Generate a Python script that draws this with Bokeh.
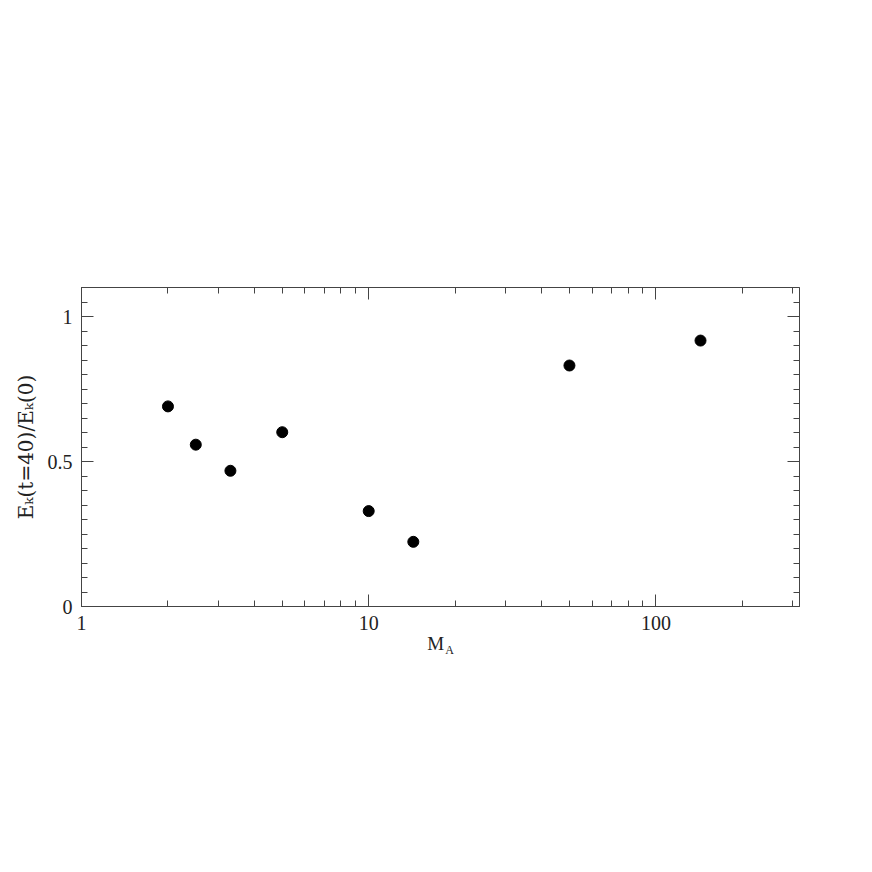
from bokeh.plotting import figure
from bokeh.models import (LogAxis, LinearAxis, LogTicker, SingleIntervalTicker, FixedTicker,
                          Range1d, CustomJSTickFormatter, ColumnDataSource)
from bokeh.embed import file_html
from bokeh.resources import INLINE

# data
MA = [2.0, 2.5, 3.3, 5.0, 10.0, 14.3, 50.0, 143.0]
Ek_ratio = [0.690, 0.558, 0.468, 0.601, 0.329, 0.223, 0.831, 0.917]
x_ticks = [1, 10, 100]
y_ticks = [0, 0.5, 1]

FONT = "Liberation Serif"
AX = "#444444"
TXT = "#222222"
NB = "\u00a0"

# frame placement (pixels in the page)
FL, FR, FT, FB = 81, 799, 287, 606
W, H = 860, 860

p = figure(width=W, height=H, output_backend="svg", toolbar_location=None,
           x_axis_type="log", x_range=Range1d(1, 10 ** 2.5), y_range=Range1d(0, 1.1),
           min_border_left=FL, min_border_right=W - FR, min_border_top=FT, min_border_bottom=H - FB,
           x_axis_location=None, y_axis_location=None)
p.xgrid.visible = False
p.ygrid.visible = False
p.outline_line_color = None

src = ColumnDataSource(dict(x=MA, y=Ek_ratio))
p.scatter("x", "y", source=src, size=11, color="black")


def style(ax, labels=True):
    ax.axis_line_color = AX
    ax.axis_line_width = 1
    ax.major_tick_line_color = AX
    ax.minor_tick_line_color = AX
    ax.major_tick_in = 12
    ax.major_tick_out = 0
    ax.minor_tick_in = 6
    ax.minor_tick_out = 0
    ax.major_label_text_font = FONT
    ax.major_label_text_font_size = "20px"
    ax.major_label_text_color = TXT
    ax.major_label_standoff = 9
    ax.axis_label_text_font = FONT
    ax.axis_label_text_font_style = "normal"
    ax.axis_label_text_color = TXT
    if not labels:
        ax.formatter = CustomJSTickFormatter(code="return ''")


def xticker():
    return LogTicker(num_minor_ticks=10, desired_num_ticks=3)


def yticker():
    return SingleIntervalTicker(interval=0.5, num_minor_ticks=10)


xb = LogAxis(ticker=xticker())
style(xb)
xb.formatter = CustomJSTickFormatter(code="return String(Math.round(tick))")
xb.axis_label = "M" + NB * 2
xb.axis_label_text_font_size = "19px"
xb.axis_label_standoff = 0
p.add_layout(xb, "below")

# subscript "A" of the x title, on a bare axis stacked under the main one
xs = LogAxis(ticker=FixedTicker(ticks=[]))
style(xs)
xs.axis_line_color = None
xs.major_tick_line_color = None
xs.minor_tick_line_color = None
xs.axis_label = NB * 6 + "A"
xs.axis_label_text_font_size = "12px"
xs.axis_label_standoff = -14
p.add_layout(xs, "below")

xt = LogAxis(ticker=xticker())
style(xt, labels=False)
p.add_layout(xt, "above")

yl = LinearAxis(ticker=yticker())
style(yl)
yl.formatter = CustomJSTickFormatter(code="return String(tick)")
yl.axis_label = "E\u2096(t=40)/E\u2096(0)"
yl.axis_label_text_font = "DejaVu Serif"
yl.axis_label_text_font_size = "20px"
yl.axis_label_standoff = 7
p.add_layout(yl, "left")

yr = LinearAxis(ticker=yticker())
style(yr, labels=False)
p.add_layout(yr, "right")

open("out.html", "w").write(file_html(p, INLINE))
